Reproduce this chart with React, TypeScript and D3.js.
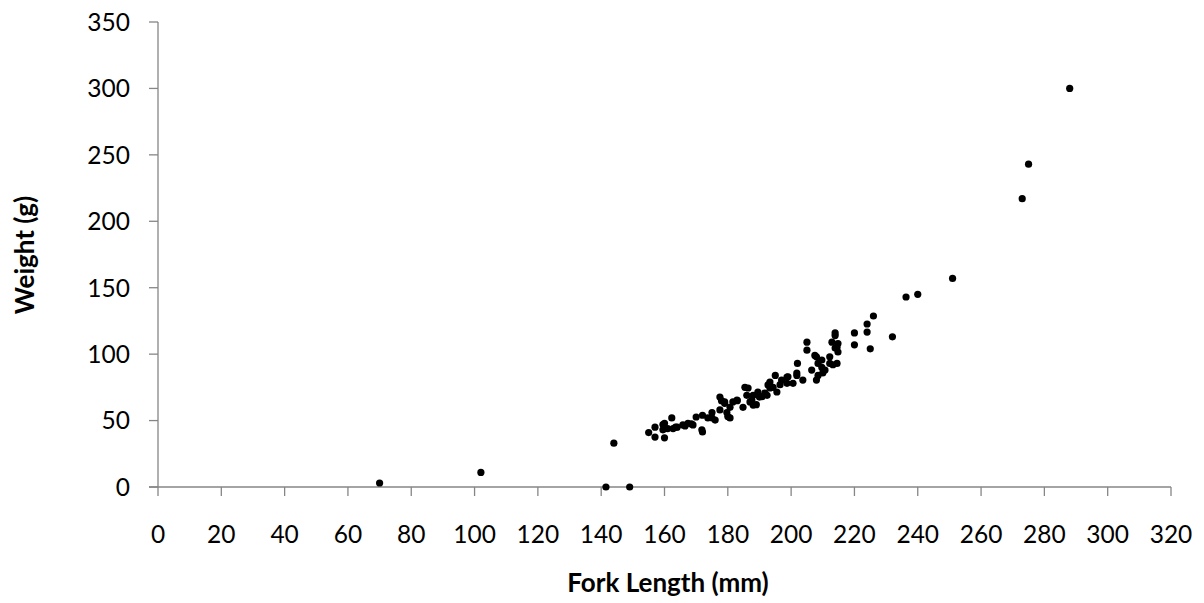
import React from "react";
import * as d3 from "d3";

const forkLength: number[] = [
  70, 102, 141.5, 149, 144,
  155, 157, 157, 159.5, 160, 159.5, 162.3, 161, 162.7, 164, 165.8, 167.4, 169, 170, 171.8,
  172, 175, 175, 177.5, 178, 177.5, 179, 179.7, 180.7, 180.7, 181.6, 183, 184.8, 185.4,
  186.4, 186, 187, 188, 189, 189.5, 190.8, 192.4, 193.3, 193.3, 194.3, 195, 195.5, 196.5,
  197, 198.7, 199, 200.6, 201.8, 202, 203.7, 205, 205, 206.5, 208, 208, 208.5, 209.7,
  210.7, 212.2, 212.2, 212.9, 213.2, 213.9, 213.9, 214.8, 214.8, 214.5,
  163.5, 166.5, 168.5, 173.7, 176, 160, 172,
  179, 180, 188, 190, 191.7, 192.7, 198.7, 201.8, 182.9, 187.6,
  208.5, 210, 209.7, 207.5, 213.9, 214.5,
  220, 220, 224, 224, 225, 226, 232, 236.3, 240, 251, 273, 275, 288,
];
const weight: number[] = [
  3, 11, 0, 0, 33,
  41, 45, 37.6, 43, 37, 47, 52, 44, 44, 45, 46.7, 48, 46.7, 52.7, 43,
  54, 56, 52, 67.7, 65, 58, 64, 56, 52, 60, 64, 65, 60, 75,
  74.5, 69, 64, 69, 62, 71.5, 68, 69, 74.5, 79, 75, 84, 71.5, 77,
  80.5, 78, 83, 78, 84, 93, 80.5, 109, 103, 88, 98, 80.5, 93, 95.6,
  88, 98, 93, 109, 92, 116, 104.6, 108, 101.6, 93,
  45, 46, 47.5, 52, 50.4, 48, 41.4,
  63, 53, 61.7, 67.7, 70.7, 76.8, 82.8, 85.8, 65.5, 65.5,
  84, 85.8, 90, 99, 114, 105,
  116, 107, 116.6, 122.7, 104, 128.7, 113, 143, 145, 157, 217, 243, 300,
];
const xTicks: number[] = d3.range(0, 321, 20);
const yTicks: number[] = d3.range(0, 351, 50);
const xTitle = "Fork Length (mm)";
const yTitle = "Weight (g)";

export default function App() {
  const W = 1204, H = 603;
  const left = 158, right = 1171, top = 22, bottom = 487;
  const x = d3.scaleLinear().domain([0, 320]).range([left, right]);
  const y = d3.scaleLinear().domain([0, 350]).range([bottom, top]);
  const axisColor = "#868686";
  const font = "Lato, 'Open Sans', sans-serif";
  const pts = forkLength.map((v, i) => [v, weight[i]] as [number, number]);
  return (
    <svg width={W} height={H} style={{ position: "absolute", left: 0, top: 0, background: "#fff" }}>
      <rect width={W} height={H} fill="#fff" />
      <line x1={left} x2={left} y1={top} y2={bottom} stroke={axisColor} strokeWidth={1.3} />
      {yTicks.map((t) => (
        <g key={"y" + t}>
          <line x1={left - 9} x2={left} y1={y(t)} y2={y(t)} stroke={axisColor} strokeWidth={1.3} />
          <text x={130} y={y(t)} dy="0.36em" textAnchor="end" fontFamily={font} fontSize={24.5} fill="#000">
            {t}
          </text>
        </g>
      ))}
      <line x1={left - 9} x2={right} y1={bottom} y2={bottom} stroke={axisColor} strokeWidth={1.3} />
      {xTicks.map((t) => (
        <g key={"x" + t}>
          <line x1={x(t)} x2={x(t)} y1={bottom} y2={bottom + 9} stroke={axisColor} strokeWidth={1.3} />
          <text x={x(t)} y={543} textAnchor="middle" fontFamily={font} fontSize={24.5} fill="#000">
            {t}
          </text>
        </g>
      ))}
      {pts.map((p, i) => (
        <circle key={i} cx={x(p[0])} cy={y(p[1])} r={3.6} fill="#000" />
      ))}
      <text x={668} y={592} textAnchor="middle" fontFamily={font} fontSize={26} fontWeight="bold" fill="#000">
        {xTitle}
      </text>
      <text
        transform={`translate(34, 255) rotate(-90)`}
        textAnchor="middle"
        fontFamily={font}
        fontSize={26}
        fontWeight="bold"
        fill="#000"
      >
        {yTitle}
      </text>
    </svg>
  );
}
